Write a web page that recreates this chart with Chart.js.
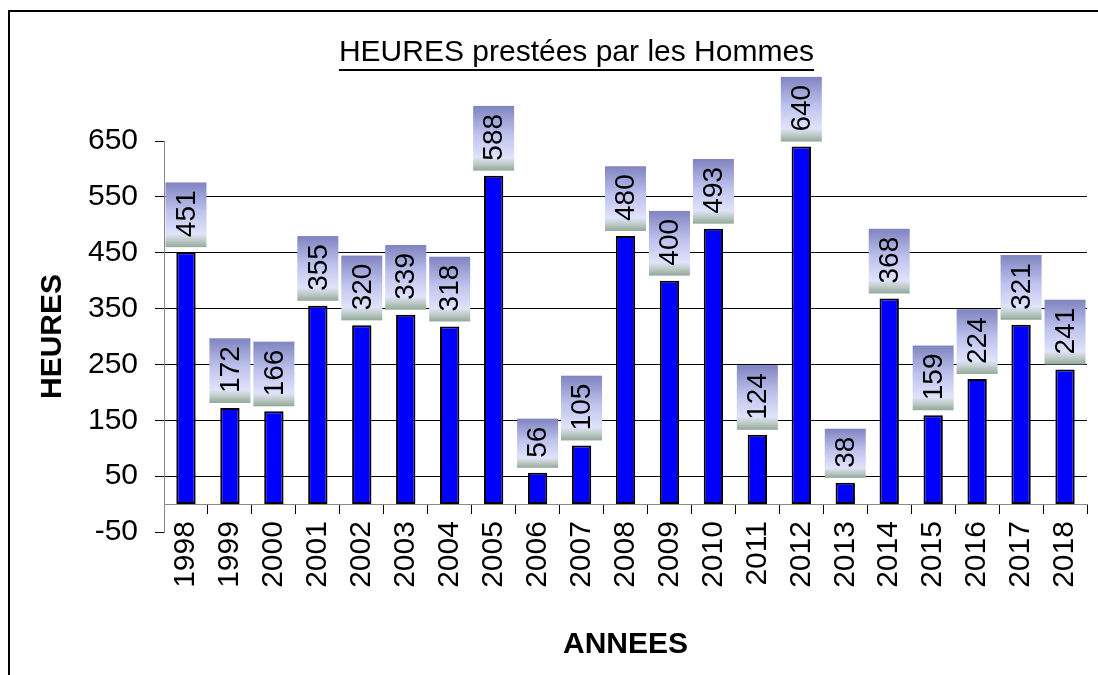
<!DOCTYPE html>
<html lang="fr">
<head>
<meta charset="utf-8">
<title>HEURES prestées par les Hommes</title>
<script src="https://cdn.jsdelivr.net/npm/chart.js@4.4.0/dist/chart.umd.min.js"></script>
<style>
    html, body { margin: 0; padding: 0; background: #fff; }
    #cadre { width: 1098px; height: 675px; }
</style>
</head>
<body>
<div id="cadre"><canvas id="chart" width="1098" height="675"></canvas></div>
<script>
"use strict";

const annees = ["1998", "1999", "2000", "2001", "2002", "2003", "2004", "2005", "2006", "2007",
    "2008", "2009", "2010", "2011", "2012", "2013", "2014", "2015", "2016", "2017", "2018"];
const heures = [451, 172, 166, 355, 320, 339, 318, 588, 56, 105,
    480, 400, 493, 124, 640, 38, 368, 159, 224, 321, 241];
const graduations = [-50, 50, 150, 250, 350, 450, 550, 650];

const titre = "HEURES prestées par les Hommes";
const police = "'Liberation Sans', Arial, sans-serif";

Chart.defaults.font.family = police;
Chart.defaults.color = "#000";

// bord noir autour du graphique (seuls gauche et haut sont visibles)
const bordure = {
    id: "bordure",
    beforeDraw(chart) {
        const ctx = chart.ctx;
        ctx.save();
        ctx.strokeStyle = "#000";
        ctx.lineWidth = 2;
        ctx.strokeRect(9, 11, 1200, 800);
        ctx.restore();
    }
};

// décale le titre et le souligne
const soulignement = {
    id: "soulignement",
    afterLayout(chart) {
        chart.titleBlock.left = 66;
        chart.titleBlock.right = 1087;
    },
    afterDraw(chart) {
        const ctx = chart.ctx;
        const bloc = chart.titleBlock;
        ctx.save();
        ctx.font = "30px " + police;
        const largeur = ctx.measureText(titre).width;
        const cx = (bloc.left + bloc.right) / 2;
        const y = bloc.top + 35 + 18 + 17;
        ctx.strokeStyle = "#000";
        ctx.lineWidth = 2;
        ctx.beginPath();
        ctx.moveTo(cx - largeur / 2, y);
        ctx.lineTo(cx + largeur / 2, y);
        ctx.stroke();
        ctx.restore();
    }
};

// étiquettes des valeurs dans des cadres dégradés
const etiquettes = {
    id: "etiquettes",
    afterDatasetsDraw(chart) {
        const ctx = chart.ctx;
        const meta = chart.getDatasetMeta(0);
        ctx.save();
        ctx.font = "28px " + police;
        meta.data.forEach((barre, i) => {
            const texte = String(heures[i]);
            const lt = ctx.measureText(texte).width;
            const w = 41;
            const h = lt + 18;
            const bas = barre.y - 5;
            const haut = bas - h;
            const grad = ctx.createLinearGradient(0, haut, 0, bas);
            grad.addColorStop(0, "#8084c0");
            grad.addColorStop(0.45, "#bfc3ee");
            grad.addColorStop(0.8, "#e0e3fa");
            grad.addColorStop(0.9, "#bccac4");
            grad.addColorStop(1, "#93a89c");
            ctx.fillStyle = grad;
            ctx.fillRect(barre.x - w / 2, haut, w, h);

            ctx.save();
            ctx.translate(barre.x + 1, haut + h / 2 - 1);
            ctx.rotate(-Math.PI / 2);
            ctx.fillStyle = "#000";
            ctx.textAlign = "center";
            ctx.textBaseline = "middle";
            ctx.fillText(texte, 0, 0);
            ctx.restore();
        });
        ctx.restore();
    }
};

const ctx = document.getElementById("chart").getContext("2d");

new Chart(ctx, {
    type: "bar",
    data: {
        labels: annees,
        datasets: [{
            label: "HEURES",
            data: heures,
            backgroundColor: "#0000ff",
            borderColor: "#000",
            borderWidth: 2,
            borderSkipped: false,
            barPercentage: 0.44,
            categoryPercentage: 1
        }]
    },
    options: {
        responsive: false,
        animation: false,
        layout: {
            padding: { top: 0, right: 11, bottom: 143, left: 0 }
        },
        scales: {
            x: {
                position: { y: 0 },
                afterFit: s => { s.paddingLeft = 0; s.paddingRight = 0; },
                border: { color: "#888", width: 1 },
                grid: {
                    offset: true,
                    drawOnChartArea: false,
                    tickLength: 9,
                    tickColor: "#000"
                },
                ticks: {
                    color: "#000",
                    font: { size: 30 },
                    minRotation: 90,
                    maxRotation: 90,
                    autoSkip: false,
                    padding: 8
                },
                title: {
                    display: true,
                    text: "ANNEES",
                    color: "#000",
                    font: { size: 30, weight: "bold" },
                    padding: { top: 31, bottom: 0 }
                }
            },
            y: {
                min: -50,
                max: 650,
                afterBuildTicks: s => { s.ticks = graduations.map(v => ({ value: v })); },
                afterFit: s => { s.width = 164; },
                border: { color: "#888", width: 1 },
                grid: {
                    color: c => (c.tick && c.tick.value > -50 && c.tick.value < 650) ? "#000" : "rgba(0,0,0,0)",
                    tickColor: "#000",
                    tickLength: 9,
                    lineWidth: 1
                },
                ticks: {
                    color: "#000",
                    font: { size: 30 },
                    padding: 17
                },
                title: {
                    display: true,
                    text: "HEURES",
                    color: "#000",
                    font: { size: 30, weight: "bold" },
                    padding: { top: 35, bottom: 0 }
                }
            }
        },
        plugins: {
            legend: { display: false },
            tooltip: { enabled: false },
            title: {
                display: true,
                text: titre,
                color: "#000",
                font: { size: 30, weight: "normal" },
                padding: { top: 35, bottom: 70 }
            }
        }
    },
    plugins: [bordure, soulignement, etiquettes]
});
</script>
</body>
</html>
